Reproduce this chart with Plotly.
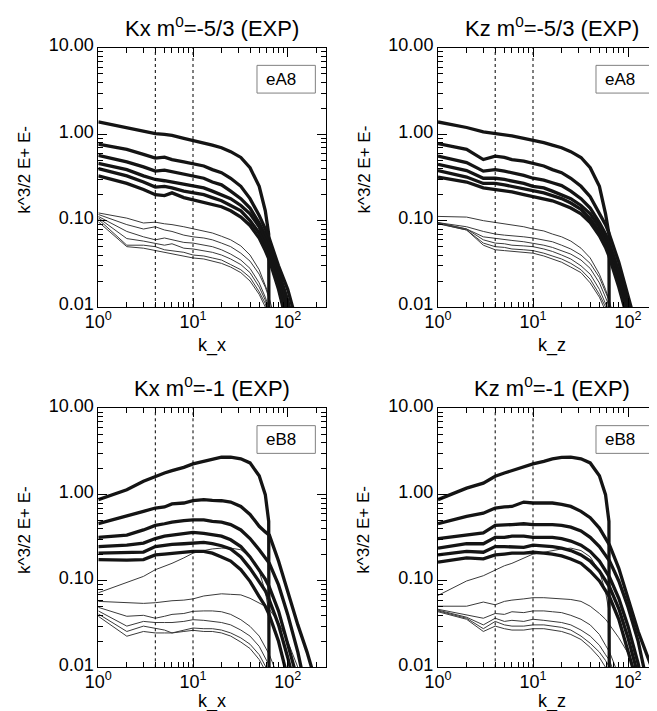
import plotly.graph_objects as go

# ---------------- data ----------------
K = [1, 2, 3, 4, 5, 6, 8, 10, 13, 16, 20, 25, 32, 40, 50, 58, 63, 64, 80, 100, 128, 160, 200]

# Panel 1: Kx, m0=-5/3 (eA8)
A_KX_THICK = [
    [1.39, 1.2, 1.08, 1.02, 1.0, 0.97, 0.90, 0.85, 0.80, 0.75, 0.70, 0.63, 0.54, 0.41, 0.25, 0.13, 0.07, 1e-4, 1e-4, 1e-4, 1e-4, 1e-4, 1e-4],
    [0.77, 0.67, 0.585, 0.53, 0.545, 0.51, 0.48, 0.456, 0.43, 0.39, 0.36, 0.31, 0.25, 0.18, 0.115, 0.08, 0.065, 0.062, 0.03, 0.016, 0.006, 0.0015, 0.0003],
    [0.57, 0.48, 0.42, 0.375, 0.385, 0.37, 0.34, 0.33, 0.31, 0.28, 0.26, 0.22, 0.18, 0.14, 0.094, 0.068, 0.055, 0.053, 0.026, 0.012, 0.004, 0.001, 0.0002],
    [0.46, 0.39, 0.33, 0.30, 0.29, 0.28, 0.26, 0.25, 0.24, 0.22, 0.20, 0.18, 0.15, 0.12, 0.085, 0.06, 0.048, 0.046, 0.022, 0.0095, 0.003, 0.0008, 0.0002],
    [0.40, 0.33, 0.28, 0.245, 0.25, 0.24, 0.22, 0.21, 0.20, 0.185, 0.17, 0.15, 0.13, 0.10, 0.072, 0.052, 0.042, 0.040, 0.019, 0.008, 0.0025, 0.0006, 0.0001],
    [0.33, 0.27, 0.23, 0.20, 0.195, 0.21, 0.185, 0.175, 0.165, 0.155, 0.145, 0.13, 0.11, 0.088, 0.063, 0.045, 0.036, 0.035, 0.016, 0.0065, 0.002, 0.0005, 0.0001],
]
A_KX_THIN = [
    [0.123, 0.107, 0.094, 0.096, 0.092, 0.090, 0.085, 0.081, 0.076, 0.072, 0.066, 0.060, 0.051, 0.040, 0.027, 0.018, 0.014, 1e-4, 1e-4, 1e-4, 1e-4, 1e-4, 1e-4],
    [0.118, 0.09, 0.08, 0.085, 0.078, 0.075, 0.068, 0.065, 0.063, 0.06, 0.055, 0.05, 0.042, 0.034, 0.024, 0.017, 0.013, 0.0125, 0.005, 0.0015, 0.0004, 0.0001, 0.0001],
    [0.112, 0.075, 0.065, 0.06, 0.063, 0.06, 0.056, 0.055, 0.052, 0.05, 0.046, 0.041, 0.035, 0.028, 0.019, 0.013, 0.010, 0.0095, 0.004, 0.001, 0.0003, 0.0001, 0.0001],
    [0.108, 0.062, 0.058, 0.055, 0.052, 0.054, 0.048, 0.047, 0.045, 0.043, 0.04, 0.036, 0.031, 0.025, 0.017, 0.012, 0.009, 0.0085, 0.0035, 0.001, 0.0003, 0.0001, 0.0001],
    [0.104, 0.052, 0.052, 0.05, 0.046, 0.045, 0.043, 0.04, 0.039, 0.037, 0.035, 0.031, 0.027, 0.022, 0.015, 0.011, 0.008, 0.0075, 0.003, 0.001, 0.0003, 0.0001, 0.0001],
    [0.097, 0.05, 0.048, 0.045, 0.043, 0.041, 0.039, 0.037, 0.036, 0.034, 0.032, 0.029, 0.025, 0.02, 0.014, 0.01, 0.0075, 0.007, 0.003, 0.001, 0.0003, 0.0001, 0.0001],
]

# Panel 2: Kz, m0=-5/3 (eA8)
A_KZ_THICK = [
    [1.39, 1.2, 1.07, 1.03, 1.0, 0.96, 0.90, 0.86, 0.80, 0.75, 0.70, 0.63, 0.54, 0.41, 0.25, 0.12, 0.07, 1e-4, 1e-4, 1e-4, 1e-4, 1e-4, 1e-4],
    [0.78, 0.67, 0.51, 0.56, 0.54, 0.51, 0.49, 0.465, 0.43, 0.39, 0.36, 0.31, 0.25, 0.19, 0.123, 0.09, 0.072, 0.068, 0.033, 0.014, 0.005, 0.0012, 0.0003],
    [0.56, 0.47, 0.375, 0.39, 0.375, 0.36, 0.335, 0.31, 0.295, 0.275, 0.255, 0.22, 0.18, 0.14, 0.095, 0.07, 0.056, 0.054, 0.026, 0.011, 0.004, 0.001, 0.0002],
    [0.45, 0.38, 0.31, 0.31, 0.30, 0.29, 0.27, 0.25, 0.24, 0.22, 0.20, 0.18, 0.15, 0.12, 0.085, 0.062, 0.05, 0.048, 0.023, 0.0095, 0.0032, 0.0008, 0.0002],
    [0.38, 0.32, 0.27, 0.27, 0.26, 0.25, 0.235, 0.22, 0.21, 0.195, 0.18, 0.16, 0.135, 0.105, 0.075, 0.055, 0.044, 0.042, 0.02, 0.008, 0.0027, 0.0007, 0.0001],
    [0.32, 0.28, 0.24, 0.23, 0.22, 0.215, 0.20, 0.19, 0.18, 0.17, 0.155, 0.14, 0.12, 0.095, 0.067, 0.049, 0.039, 0.037, 0.017, 0.007, 0.0023, 0.0006, 0.0001],
]
A_KZ_THIN = [
    [0.112, 0.11, 0.10, 0.095, 0.092, 0.09, 0.085, 0.08, 0.076, 0.07, 0.065, 0.058, 0.048, 0.037, 0.024, 0.016, 0.012, 1e-4, 1e-4, 1e-4, 1e-4, 1e-4, 1e-4],
    [0.095, 0.085, 0.075, 0.07, 0.068, 0.067, 0.065, 0.063, 0.06, 0.057, 0.052, 0.047, 0.04, 0.032, 0.022, 0.015, 0.012, 0.0115, 0.0045, 0.0013, 0.0003, 0.0001, 0.0001],
    [0.095, 0.08, 0.065, 0.062, 0.06, 0.059, 0.057, 0.055, 0.052, 0.049, 0.045, 0.041, 0.035, 0.028, 0.019, 0.013, 0.0105, 0.01, 0.004, 0.0012, 0.0003, 0.0001, 0.0001],
    [0.094, 0.08, 0.06, 0.055, 0.054, 0.052, 0.051, 0.05, 0.047, 0.044, 0.04, 0.036, 0.03, 0.024, 0.016, 0.011, 0.009, 0.0085, 0.0035, 0.001, 0.0003, 0.0001, 0.0001],
    [0.093, 0.078, 0.055, 0.05, 0.049, 0.047, 0.046, 0.045, 0.042, 0.039, 0.036, 0.032, 0.027, 0.021, 0.014, 0.01, 0.008, 0.0075, 0.003, 0.001, 0.0003, 0.0001, 0.0001],
    [0.092, 0.078, 0.052, 0.046, 0.045, 0.044, 0.043, 0.042, 0.039, 0.036, 0.033, 0.029, 0.025, 0.019, 0.013, 0.009, 0.007, 0.0065, 0.0025, 0.0008, 0.0002, 0.0001, 0.0001],
]

# Panel 3: Kx, m0=-1 (eB8)
B_KX_THICK = [
    [0.875, 1.14, 1.43, 1.63, 1.78, 1.9, 2.07, 2.27, 2.43, 2.59, 2.71, 2.72, 2.6, 2.33, 1.65, 1.0, 0.49, 1e-4, 1e-4, 1e-4, 1e-4, 1e-4, 1e-4],
    [0.46, 0.56, 0.64, 0.70, 0.72, 0.78, 0.80, 0.85, 0.875, 0.86, 0.85, 0.82, 0.73, 0.59, 0.43, 0.37, 0.345, 0.34, 0.17, 0.076, 0.031, 0.015, 0.0065],
    [0.32, 0.34, 0.39, 0.44, 0.46, 0.48, 0.50, 0.51, 0.51, 0.49, 0.48, 0.45, 0.39, 0.31, 0.23, 0.185, 0.165, 0.16, 0.09, 0.041, 0.015, 0.005, 0.0015],
    [0.25, 0.26, 0.275, 0.31, 0.33, 0.34, 0.355, 0.365, 0.355, 0.34, 0.33, 0.30, 0.25, 0.19, 0.135, 0.105, 0.088, 0.085, 0.045, 0.019, 0.007, 0.002, 0.0005],
    [0.21, 0.216, 0.216, 0.25, 0.26, 0.265, 0.27, 0.275, 0.28, 0.27, 0.256, 0.235, 0.19, 0.14, 0.099, 0.077, 0.063, 0.06, 0.031, 0.013, 0.0045, 0.0012, 0.0003],
    [0.177, 0.174, 0.177, 0.20, 0.205, 0.21, 0.216, 0.22, 0.22, 0.21, 0.19, 0.17, 0.135, 0.099, 0.066, 0.051, 0.042, 0.04, 0.02, 0.0075, 0.0025, 0.0006, 0.0001],
]
B_KX_THIN = [
    [0.073, 0.095, 0.113, 0.135, 0.148, 0.16, 0.185, 0.21, 0.225, 0.235, 0.24, 0.24, 0.23, 0.19, 0.13, 0.075, 0.045, 1e-4, 1e-4, 1e-4, 1e-4, 1e-4, 1e-4],
    [0.058, 0.056, 0.055, 0.056, 0.058, 0.059, 0.06, 0.062, 0.067, 0.069, 0.071, 0.07, 0.069, 0.063, 0.056, 0.051, 0.048, 0.047, 0.033, 0.02, 0.01, 0.004, 0.001],
    [0.0495, 0.039, 0.04, 0.037, 0.039, 0.041, 0.042, 0.0445, 0.045, 0.045, 0.044, 0.041, 0.0356, 0.0298, 0.023, 0.0167, 0.0145, 0.014, 0.0075, 0.003, 0.001, 0.0003, 0.0001],
    [0.045, 0.030, 0.034, 0.033, 0.033, 0.033, 0.034, 0.0356, 0.035, 0.034, 0.033, 0.031, 0.027, 0.023, 0.0175, 0.0128, 0.011, 0.0105, 0.005, 0.002, 0.0006, 0.0002, 0.0001],
    [0.0415, 0.026, 0.030, 0.0285, 0.027, 0.025, 0.027, 0.0285, 0.028, 0.028, 0.027, 0.025, 0.0219, 0.0185, 0.014, 0.0102, 0.0088, 0.0085, 0.004, 0.0015, 0.0005, 0.0001, 0.0001],
    [0.039, 0.0229, 0.026, 0.025, 0.025, 0.025, 0.026, 0.0268, 0.026, 0.026, 0.025, 0.023, 0.0196, 0.0165, 0.0123, 0.009, 0.0077, 0.0075, 0.0035, 0.0012, 0.0004, 0.0001, 0.0001],
]

# Panel 4: Kz, m0=-1 (eB8)
B_KZ_THICK = [
    [0.875, 1.19, 1.36, 1.63, 1.78, 1.9, 2.07, 2.27, 2.43, 2.59, 2.7, 2.72, 2.6, 2.33, 1.65, 1.0, 0.49, 1e-4, 1e-4, 1e-4, 1e-4, 1e-4, 1e-4],
    [0.46, 0.56, 0.61, 0.70, 0.72, 0.73, 0.82, 0.80, 0.80, 0.80, 0.77, 0.73, 0.64, 0.54, 0.41, 0.31, 0.27, 0.26, 0.14, 0.064, 0.026, 0.0135, 0.007],
    [0.31, 0.34, 0.36, 0.44, 0.45, 0.45, 0.46, 0.45, 0.45, 0.45, 0.44, 0.42, 0.38, 0.32, 0.25, 0.2, 0.175, 0.17, 0.10, 0.05, 0.02, 0.007, 0.002],
    [0.24, 0.27, 0.27, 0.32, 0.32, 0.33, 0.33, 0.32, 0.32, 0.32, 0.31, 0.29, 0.26, 0.22, 0.17, 0.13, 0.115, 0.11, 0.063, 0.03, 0.011, 0.0035, 0.001],
    [0.20, 0.22, 0.215, 0.25, 0.25, 0.25, 0.245, 0.26, 0.255, 0.25, 0.24, 0.225, 0.20, 0.17, 0.13, 0.1, 0.088, 0.085, 0.048, 0.022, 0.008, 0.0025, 0.0006],
    [0.165, 0.185, 0.18, 0.20, 0.205, 0.21, 0.21, 0.215, 0.21, 0.205, 0.195, 0.18, 0.16, 0.13, 0.10, 0.077, 0.067, 0.065, 0.036, 0.016, 0.006, 0.0018, 0.0004],
]
B_KZ_THIN = [
    [0.068, 0.10, 0.115, 0.135, 0.15, 0.16, 0.185, 0.205, 0.215, 0.225, 0.235, 0.24, 0.225, 0.19, 0.13, 0.075, 0.045, 1e-4, 1e-4, 1e-4, 1e-4, 1e-4, 1e-4],
    [0.051, 0.051, 0.057, 0.053, 0.058, 0.06, 0.062, 0.064, 0.064, 0.063, 0.063, 0.061, 0.058, 0.051, 0.042, 0.036, 0.032, 0.031, 0.022, 0.0146, 0.007, 0.003, 0.001],
    [0.047, 0.04, 0.037, 0.042, 0.041, 0.044, 0.043, 0.045, 0.045, 0.044, 0.043, 0.04, 0.036, 0.031, 0.024, 0.018, 0.0155, 0.015, 0.008, 0.0035, 0.0012, 0.0003, 0.0001],
    [0.046, 0.038, 0.031, 0.037, 0.034, 0.035, 0.034, 0.036, 0.035, 0.034, 0.033, 0.031, 0.027, 0.023, 0.018, 0.014, 0.0122, 0.012, 0.006, 0.0025, 0.0008, 0.0002, 0.0001],
    [0.045, 0.037, 0.028, 0.034, 0.031, 0.030, 0.030, 0.031, 0.031, 0.030, 0.029, 0.027, 0.023, 0.019, 0.015, 0.012, 0.0102, 0.01, 0.005, 0.002, 0.0006, 0.0002, 0.0001],
    [0.044, 0.036, 0.026, 0.030, 0.028, 0.027, 0.027, 0.028, 0.028, 0.027, 0.026, 0.024, 0.021, 0.017, 0.013, 0.01, 0.0082, 0.008, 0.004, 0.0015, 0.0005, 0.0001, 0.0001],
]

PANEL_THICK = [A_KX_THICK, A_KZ_THICK, B_KX_THICK, B_KZ_THICK]
PANEL_THIN = [A_KX_THIN, A_KZ_THIN, B_KX_THIN, B_KZ_THIN]
PANEL_TITLES = ["Kx m<sup>0</sup>=-5/3 (EXP)", "Kz m<sup>0</sup>=-5/3 (EXP)",
                "Kx m<sup>0</sup>=-1 (EXP)", "Kz m<sup>0</sup>=-1 (EXP)"]
X_TITLES = ["k_x", "k_z", "k_x", "k_z"]
RUN_LABELS = ["eA8", "eA8", "eB8", "eB8"]
Y_TITLE = "k^3/2 E+ E-"
X_TICKS = [1, 10, 100]
X_TICK_TEXT = ["10<sup>0</sup>", "10<sup>1</sup>", "10<sup>2</sup>"]
Y_TICKS = [0.01, 0.1, 1, 10]
Y_TICK_TEXT = ["0.01", "0.10", "1.00", "10.00"]
MARK_K = [4, 10]

# ---------------- layout geometry (pixels) ----------------
W, H = 657, 711
FONT = "Liberation Sans, Arial, Helvetica, sans-serif"
PX_X = [(90.3, 318.3), (430.0, 657.0), (90.3, 318.3), (430.0, 657.0)]
PX_Y = [(40.0, 299.0), (40.0, 299.0), (400.3, 659.3), (400.3, 659.3)]
DECADE_PX = [94.7, 95.0, 94.7, 95.0]
XTITLE_GAP = [38, 38, 34, 34]

x_minor = [m * d for d in (1, 10, 100) for m in range(2, 10)]
y_minor = [m * d for d in (0.01, 0.1, 1) for m in range(2, 10)]

fig = go.Figure()
annotations = []
shapes = []

for i in range(4):
    xs = "" if i == 0 else str(i + 1)
    xa, ya = "x" + xs, "y" + xs
    for curve in PANEL_THIN[i]:
        fig.add_trace(go.Scatter(x=K, y=curve, mode="lines", xaxis=xa, yaxis=ya,
                                 line=dict(color="#3a3a3a", width=1), showlegend=False,
                                 hoverinfo="skip"))
    for curve in PANEL_THICK[i]:
        fig.add_trace(go.Scatter(x=K, y=curve, mode="lines", xaxis=xa, yaxis=ya,
                                 line=dict(color="#141414", width=3.3), showlegend=False,
                                 hoverinfo="skip"))

    x0, x1 = PX_X[i]
    y0, y1 = PX_Y[i]
    xdom = [x0 / W, x1 / W]
    ydom = [1 - y1 / H, 1 - y0 / H]
    xr = [0, (x1 - x0) / DECADE_PX[i]]
    common = dict(showline=True, linecolor="black", linewidth=1, mirror="allticks",
                  ticks="inside", ticklen=9, tickwidth=1, tickcolor="black",
                  showgrid=False, zeroline=False, automargin=False,
                  tickfont=dict(family=FONT, size=18, color="black"))
    fig.layout["xaxis" + xs] = dict(type="log", domain=xdom, range=xr, anchor=ya,
                                    tickmode="array", tickvals=X_TICKS, ticktext=X_TICK_TEXT,
                                    ticklabelstandoff=-2,
                                    minor=dict(tickmode="array", tickvals=x_minor, ticks="inside",
                                               ticklen=5, tickcolor="black", showgrid=False),
                                    **common)
    fig.layout["yaxis" + xs] = dict(type="log", domain=ydom, range=[-2, 1], anchor=xa,
                                    tickmode="array", tickvals=Y_TICKS, ticktext=Y_TICK_TEXT,
                                    ticklabelshift=-3,
                                    minor=dict(tickmode="array", tickvals=y_minor, ticks="inside",
                                               ticklen=5, tickcolor="black", showgrid=False),
                                    **common)

    for kv in MARK_K:
        shapes.append(dict(type="line", xref=xa, yref=ya + " domain", x0=kv, x1=kv, y0=0, y1=1,
                           line=dict(color="black", width=1, dash="dot")))
    # label box
    shapes.append(dict(type="rect", xref=xa + " domain", yref=ya + " domain",
                       x0=0.696, x1=0.952, y0=0.826, y1=0.933,
                       line=dict(color="#808080", width=1), fillcolor="white"))
    annotations.append(dict(text=RUN_LABELS[i], xref=xa + " domain", yref=ya + " domain",
                            x=0.725, y=0.880, xanchor="left", yanchor="middle", showarrow=False,
                            font=dict(family=FONT, size=17, color="black")))
    cx = x0 + (318.3 - 90.3) / 2
    annotations.append(dict(text=PANEL_TITLES[i], xref="paper", yref="paper",
                            x=cx / W, y=1 - (y0 - 21) / H, xanchor="center", yanchor="middle",
                            showarrow=False, font=dict(family=FONT, size=22, color="black")))
    annotations.append(dict(text=X_TITLES[i], xref="paper", yref="paper",
                            x=cx / W, y=1 - (y1 + XTITLE_GAP[i]) / H, xanchor="center",
                            yanchor="middle", showarrow=False,
                            font=dict(family=FONT, size=18, color="black")))
    annotations.append(dict(text=Y_TITLE, xref="paper", yref="paper",
                            x=(x0 - 74) / W, y=1 - ((y0 + y1) / 2 - 8) / H, xanchor="center",
                            yanchor="middle", textangle=-90, showarrow=False,
                            font=dict(family=FONT, size=17, color="black")))

fig.update_layout(width=W, height=H, margin=dict(l=0, r=0, t=0, b=0, autoexpand=False),
                  paper_bgcolor="white", plot_bgcolor="white",
                  annotations=annotations, shapes=shapes, showlegend=False)
fig.write_html("out.html")
